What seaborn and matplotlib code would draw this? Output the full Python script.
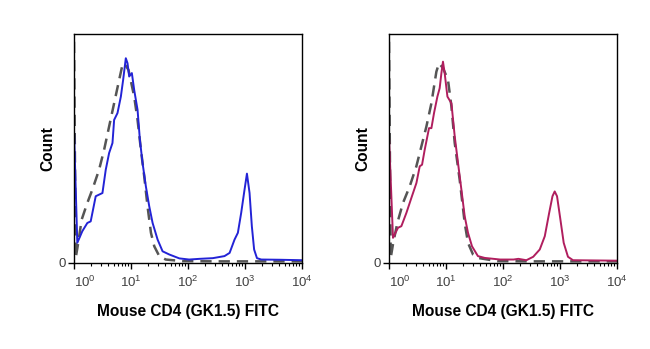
import numpy as np
import pandas as pd
import matplotlib
matplotlib.use("Agg")
import matplotlib.pyplot as plt
import matplotlib.transforms as mtransforms
from matplotlib.ticker import FixedLocator, LogLocator, NullFormatter
import seaborn as sns

# ---------------- data (log10 intensity, % of max count) ----------------
blue_logx = [0.0, 0.058, 0.146, 0.234, 0.293, 0.381, 0.44, 0.499, 0.557, 0.616, 0.675,
             0.704, 0.763, 0.822, 0.862, 0.909, 0.939, 0.968, 1.015, 1.056, 1.115, 1.156,
             1.203, 1.261, 1.32, 1.379, 1.467, 1.554, 1.672, 1.848, 2.02, 2.2, 2.435,
             2.64, 2.73, 2.816, 2.875, 2.933, 2.992, 3.034, 3.08, 3.12, 3.16, 3.21,
             3.285, 3.61, 4.0]
blue_count = [58.0, 8.6, 13.7, 17.3, 18.0, 29.0, 29.7, 30.4, 40.6, 47.9, 52.3,
              62.4, 65.4, 72.6, 79.9, 89.4, 87.2, 81.4, 82.9, 75.5, 66.8, 53.7,
              43.5, 33.3, 24.6, 17.3, 10.0, 4.9, 3.5, 1.8, 1.3, 1.6, 1.9,
              2.8, 4.2, 10.0, 13.0, 21.7, 31.9, 38.9, 30.4, 15.9, 5.7, 1.9,
              1.3, 1.2, 1.0]

ctrl1_logx = [0.0, 0.03, 0.07, 0.135, 0.234, 0.322, 0.44, 0.528, 0.616, 0.704, 0.792,
              0.85, 0.88, 0.956, 1.056, 1.115, 1.174, 1.232, 1.29, 1.35, 1.408, 1.496,
              1.61, 1.9, 2.5, 3.0, 3.5, 4.0]
ctrl1_count = [96.6, 2.0, 8.0, 18.8, 26.1, 31.9, 40.6, 49.3, 59.5, 69.7, 79.9,
               86.5, 87.2, 84.3, 72.6, 62.4, 49.3, 37.7, 24.6, 13.0, 7.1, 2.8,
               1.3, 0.6, 0.5, 0.5, 0.5, 0.5]

mag_logx = [0.0, 0.07, 0.158, 0.217, 0.305, 0.393, 0.481, 0.539, 0.58, 0.626, 0.702,
            0.744, 0.79, 0.849, 0.889, 0.919, 0.947, 0.977, 1.025, 1.095, 1.153, 1.211,
            1.27, 1.328, 1.386, 1.456, 1.56, 1.68, 1.95, 2.185, 2.27, 2.41, 2.53,
            2.645, 2.733, 2.81, 2.868, 2.907, 2.948, 3.007, 3.065, 3.14, 3.228, 4.0]
mag_count = [55.2, 10.8, 15.2, 15.9, 21.7, 28.3, 34.8, 42.1, 42.8, 49.3, 58.8,
             58.8, 65.4, 72.6, 76.3, 82.8, 87.9, 82.8, 72.6, 69.7, 55.2, 43.5,
             31.9, 20.2, 13.0, 7.1, 2.8, 2.0, 1.3, 1.3, 1.6, 1.0, 2.5,
             5.7, 11.5, 21.7, 29.0, 31.1, 29.0, 18.8, 8.6, 2.5, 1.0, 0.8]

ctrl2_logx = [0.0, 0.03, 0.07, 0.146, 0.246, 0.363, 0.48, 0.568, 0.656, 0.744, 0.831,
              0.877, 0.95, 1.035, 1.095, 1.153, 1.24, 1.328, 1.386, 1.474, 1.56,
              1.9, 2.5, 3.0, 3.5, 4.0]
ctrl2_count = [96.6, 2.0, 8.0, 17.3, 26.1, 33.3, 42.1, 50.8, 59.5, 69.7, 83.5,
               87.2, 85.0, 79.9, 68.3, 52.3, 36.2, 17.3, 8.6, 3.5, 2.0,
               0.6, 0.5, 0.5, 0.5, 0.5]

x_label = "Mouse CD4 (GK1.5) FITC"
y_label = "Count"
major_ticks = [1, 10, 100, 1000, 10000]
major_labels = ["$10^0$", "$10^1$", "$10^2$", "$10^3$", "$10^4$"]

panels = [
    (blue_logx, blue_count, ctrl1_logx, ctrl1_count, "#2323d6"),
    (mag_logx, mag_count, ctrl2_logx, ctrl2_count, "#b01e5e"),
]

# ---------------- figure ----------------
sns.set_theme(style="white")
plt.rcParams["font.family"] = ["Liberation Sans", "DejaVu Sans"]
plt.rcParams["mathtext.fontset"] = "custom"
plt.rcParams["mathtext.rm"] = "Liberation Sans"
plt.rcParams["mathtext.it"] = "Liberation Sans"

fig = plt.figure(figsize=(6.5, 3.49), dpi=100)
positions = [
    [74 / 650, (349 - 262.5) / 349, 228 / 650, 228.5 / 349],
    [389 / 650, (349 - 262.5) / 349, 228 / 650, 228.5 / 349],
]

for pos, (sx, sy, cx, cy, col) in zip(positions, panels):
    ax = fig.add_axes(pos)
    df_s = pd.DataFrame({"x": np.power(10.0, sx), "y": sy})
    df_c = pd.DataFrame({"x": np.power(10.0, cx), "y": cy})
    sns.lineplot(data=df_c, x="x", y="y", ax=ax, sort=False, estimator=None,
                 color="#555555", lw=1.8, dashes=False, linestyle=(0, (4.5, 2.8)))
    sns.lineplot(data=df_s, x="x", y="y", ax=ax, sort=False, estimator=None,
                 color=col, lw=1.4)
    ax.set_xscale("log")
    ax.set_xlim(1, 1e4)
    ax.set_ylim(0, 100)
    for s in ax.spines.values():
        s.set_visible(True)
        s.set_color("black")
        s.set_linewidth(1.0)
    ax.xaxis.set_major_locator(FixedLocator(major_ticks))
    ax.set_xticklabels(major_labels)
    ax.xaxis.set_minor_locator(LogLocator(base=10, subs=np.arange(2, 10), numticks=20))
    ax.xaxis.set_minor_formatter(NullFormatter())
    ax.set_yticks([0])
    ax.set_yticklabels(["0"])
    ax.tick_params(axis="x", which="major", direction="out", length=4, width=1,
                   color="black", labelsize=9.5, labelcolor="#404040", pad=5,
                   bottom=True)
    ax.tick_params(axis="x", which="minor", direction="out", length=2.5, width=0.8,
                   color="black", bottom=True)
    ax.tick_params(axis="y", which="major", direction="out", length=4, width=1,
                   color="black", labelsize=9.5, labelcolor="#404040", pad=2, left=True)
    # shift the first decade label right, away from the y axis
    lbl0 = ax.get_xticklabels()[0]
    lbl0.set_transform(lbl0.get_transform() +
                       mtransforms.ScaledTranslation(0.11, 0, fig.dpi_scale_trans))
    ax.set_xlabel(x_label, fontsize=11.2, fontweight="bold", labelpad=10, color="black")
    ax.set_ylabel(y_label, fontsize=11.2, fontweight="bold", labelpad=2, color="black")
    ax.grid(False)

fig.savefig("out.png", dpi=100)
